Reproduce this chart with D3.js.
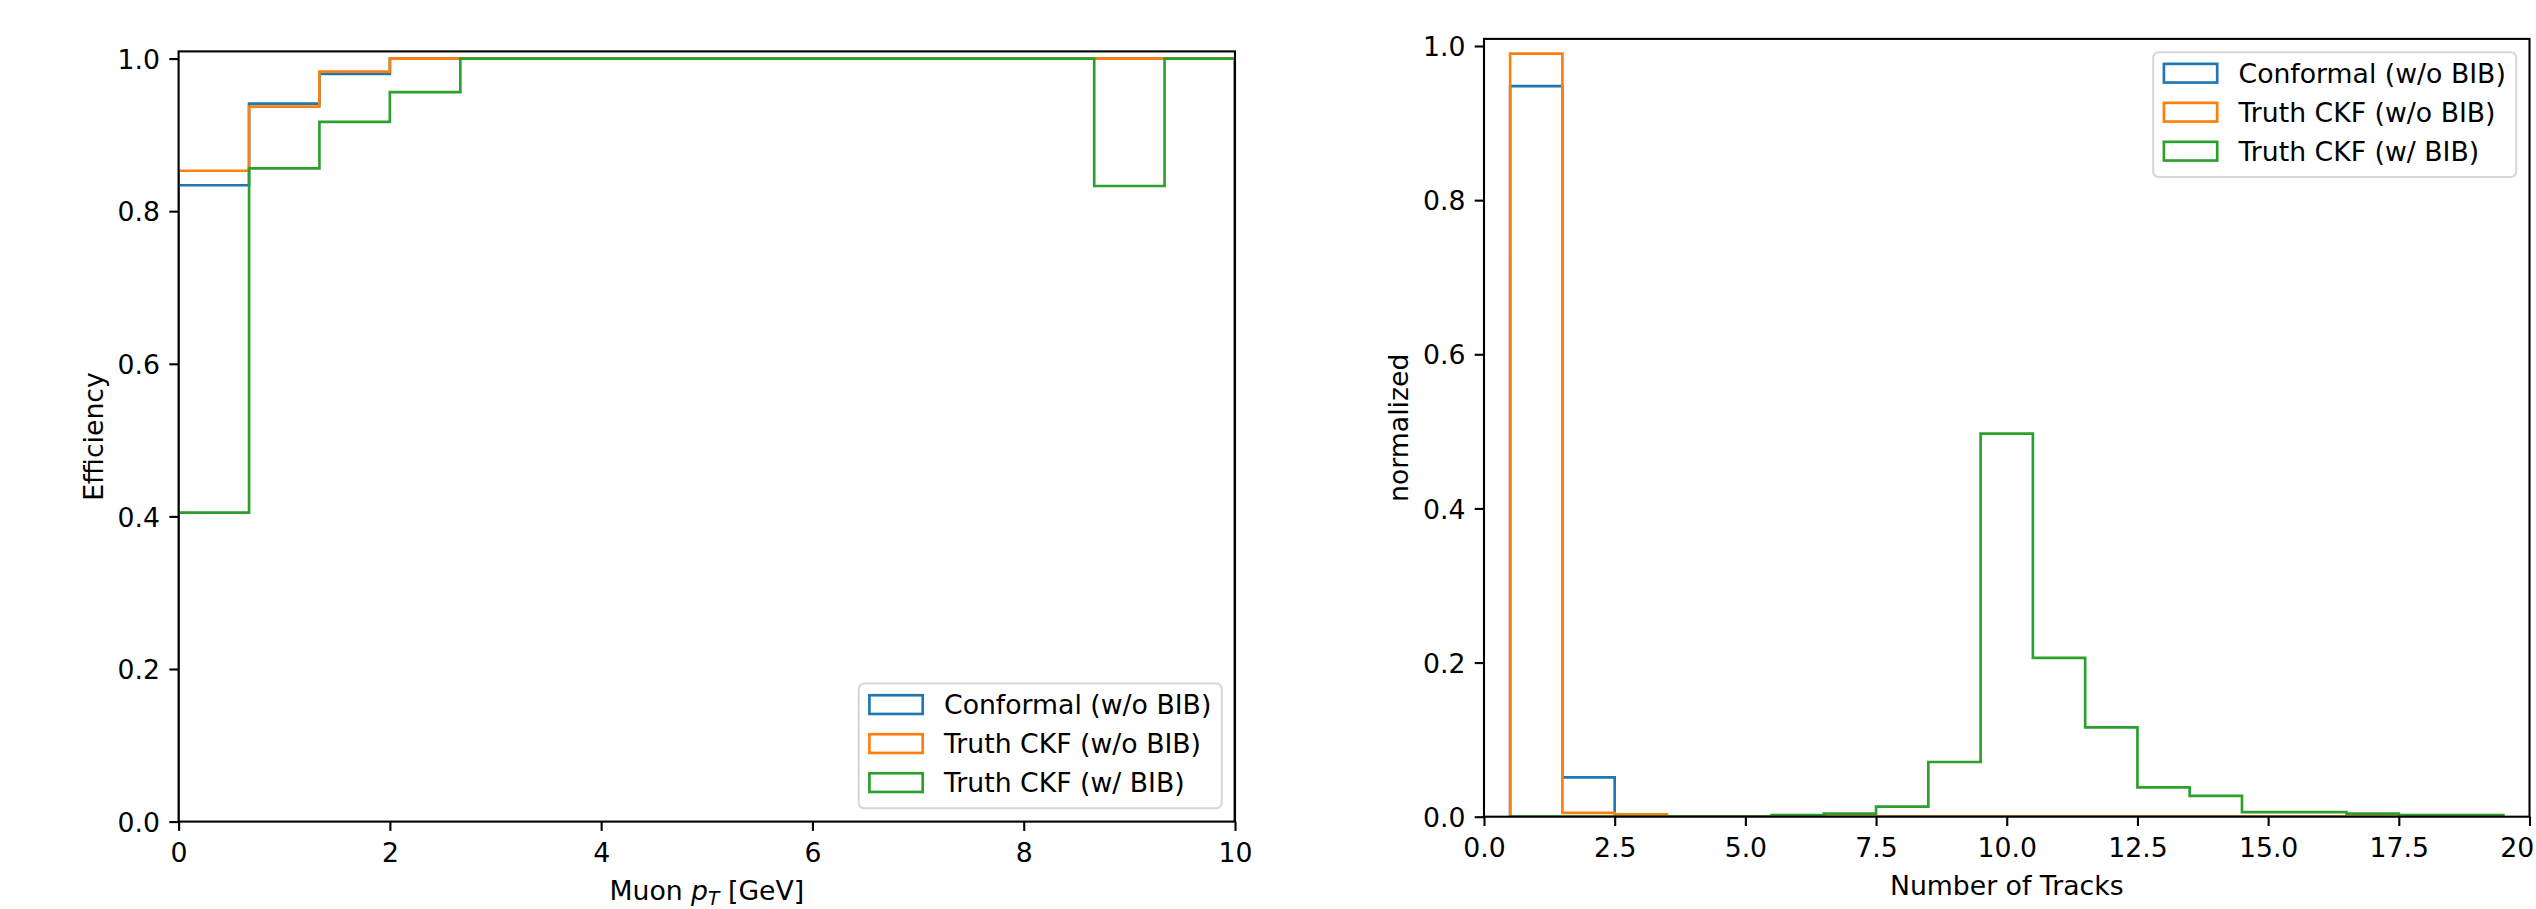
<!DOCTYPE html>
<html>
<head>
<meta charset="utf-8">
<script src="https://cdn.jsdelivr.net/npm/d3@7"></script>
<style>
  body { margin: 0; background: #fff; }
  svg { display: block; font-family: "DejaVu Sans", sans-serif; }
</style>
</head>
<body>
<div id="vis"></div>
<script>
// legend entries and matplotlib tab10 colours
const seriesNames = ["Conformal (w/o BIB)", "Truth CKF (w/o BIB)", "Truth CKF (w/ BIB)"];
const seriesColours = ["#1f77b4", "#ff7f0e", "#2ca02c"];

// left panel: efficiency vs muon pT (15 bins from 0 to 10 GeV)
const ptEdges = [0, 0.667, 1.333, 2, 2.667, 3.333, 4, 4.667, 5.333, 6, 6.667, 7.333, 8, 8.667, 9.333, 10];
const effConformal = [0.834, 0.941, 0.980, 1, 1, 1, 1, 1, 1, 1, 1, 1, 1, 1, 1];
const effCkf = [0.853, 0.937, 0.983, 1, 1, 1, 1, 1, 1, 1, 1, 1, 1, 1, 1];
const effCkfBib = [0.405, 0.856, 0.917, 0.956, 1, 1, 1, 1, 1, 1, 1, 1, 1, 0.833, 1];
const ptTicks = [0, 2, 4, 6, 8, 10];
const effTicks = [0, 0.2, 0.4, 0.6, 0.8, 1.0];

// right panel: normalised number of tracks per event (unit bins centred on integers)
const trackEdges = [0.5, 1.5, 2.5, 3.5, 4.5, 5.5, 6.5, 7.5, 8.5, 9.5, 10.5, 11.5, 12.5, 13.5, 14.5, 15.5, 16.5, 17.5, 18.5, 19.5];
const nConformal = [0.948, 0.051, 0, 0, 0, 0, 0, 0, 0, 0, 0, 0, 0, 0, 0, 0, 0, 0, 0];
const nCkf = [0.990, 0.005, 0.003, 0, 0, 0, 0, 0, 0, 0, 0, 0, 0, 0, 0, 0, 0, 0, 0];
const nCkfBib = [0, 0, 0, 0, 0, 0.002, 0.004, 0.013, 0.071, 0.497, 0.206, 0.116, 0.038, 0.027, 0.006, 0.006, 0.004, 0.002, 0.002];
const trackTicks = [0, 2.5, 5, 7.5, 10, 12.5, 15, 17.5, 20];
const normTicks = [0, 0.2, 0.4, 0.6, 0.8, 1.0];

const width = 2536;
const height = 909;
const fontSize = 26.7;
const tickLen = 9.3;

const svg = d3.select("#vis")
  .append("svg")
  .attr("width", width)
  .attr("height", height)
  .style("background", "#fff");

// draws one matplotlib-like panel with step histograms
function panel(cfg) {
  const x = d3.scaleLinear().domain(cfg.xDomain).range([cfg.left, cfg.right]);
  const y = d3.scaleLinear().domain(cfg.yDomain).range([cfg.bottom, cfg.top]);

  const clipId = "clip-" + cfg.id;
  svg.append("clipPath").attr("id", clipId)
    .append("rect")
    .attr("x", cfg.left).attr("y", cfg.top)
    .attr("width", cfg.right - cfg.left).attr("height", cfg.bottom - cfg.top);

  // step outline: up from zero at the first edge, across each bin, down at the last edge
  function stepPoints(edges, values) {
    const pts = [[edges[0], 0]];
    values.forEach((v, i) => {
      pts.push([edges[i], v]);
      pts.push([edges[i + 1], v]);
    });
    pts.push([edges[edges.length - 1], 0]);
    return pts;
  }

  const line = d3.line().x((d) => x(d[0])).y((d) => y(d[1]));

  svg.append("g")
    .attr("clip-path", `url(#${clipId})`)
    .selectAll("path")
    .data(cfg.series)
    .enter()
    .append("path")
    .attr("d", (d) => line(stepPoints(cfg.edges, d)))
    .attr("fill", "none")
    .attr("stroke", (d, i) => seriesColours[i])
    .attr("stroke-width", 2.67)
    .attr("stroke-linejoin", "miter");

  // axes
  const xAxis = svg.append("g")
    .attr("transform", `translate(0,${cfg.bottom})`)
    .call(d3.axisBottom(x).tickValues(cfg.xTicks).tickSize(tickLen).tickFormat(cfg.xFormat));
  const yAxis = svg.append("g")
    .attr("transform", `translate(${cfg.left},0)`)
    .call(d3.axisLeft(y).tickValues(cfg.yTicks).tickSize(tickLen).tickFormat(d3.format(".1f")));

  [xAxis, yAxis].forEach((g) => {
    g.attr("font-family", null).attr("font-size", null);
    g.select(".domain").remove();
    g.selectAll(".tick line").attr("stroke", "#000").attr("stroke-width", 2.1);
    g.selectAll(".tick text")
      .attr("fill", "#000")
      .style("font-size", fontSize + "px");
  });
  xAxis.selectAll(".tick text").attr("y", 40).attr("dy", null);
  yAxis.selectAll(".tick text").attr("x", -18.6).attr("dy", "0.36em");

  // spines on top of the data
  svg.append("rect")
    .attr("x", cfg.left).attr("y", cfg.top)
    .attr("width", cfg.right - cfg.left).attr("height", cfg.bottom - cfg.top)
    .attr("fill", "none")
    .attr("stroke", "#000")
    .attr("stroke-width", 2.1);

  // x label
  const xl = svg.append("text")
    .attr("x", (cfg.left + cfg.right) / 2)
    .attr("y", cfg.bottom + 78)
    .attr("text-anchor", "middle")
    .style("font-size", fontSize + "px")
    .attr("fill", "#000");
  cfg.xLabel(xl);

  // y label
  const ylx = cfg.left - 76;
  const yly = (cfg.top + cfg.bottom) / 2;
  svg.append("text")
    .attr("x", ylx)
    .attr("y", yly)
    .attr("transform", `rotate(-90,${ylx},${yly})`)
    .attr("text-anchor", "middle")
    .style("font-size", fontSize + "px")
    .attr("fill", "#000")
    .text(cfg.yLabel);

  // legend
  const boxW = 363;
  const boxH = 124.7;
  const pad = 13.3;
  const bx = cfg.right - pad - boxW;
  const by = cfg.legendLoc === "upper" ? cfg.top + pad : cfg.bottom - pad - boxH;
  const leg = svg.append("g").attr("transform", `translate(${bx},${by})`);
  leg.append("rect")
    .attr("width", boxW).attr("height", boxH)
    .attr("rx", 5.3)
    .attr("fill", "#fff").attr("fill-opacity", 0.8)
    .attr("stroke", "#d6d6d6").attr("stroke-width", 2);
  const rows = leg.selectAll(".row")
    .data(seriesNames)
    .enter()
    .append("g")
    .attr("transform", (d, i) => `translate(0,${21 + i * 39})`);
  rows.append("rect")
    .attr("x", 10.7).attr("y", -9.35)
    .attr("width", 53.3).attr("height", 18.7)
    .attr("fill", "none")
    .attr("stroke", (d, i) => seriesColours[i])
    .attr("stroke-width", 2.67);
  rows.append("text")
    .attr("x", 85.3).attr("y", 9.3)
    .style("font-size", fontSize + "px")
    .attr("fill", "#000")
    .text((d) => d);
}

panel({
  id: "eff",
  left: 178.6, right: 1235, top: 51.4, bottom: 821.6,
  xDomain: [0, 10], yDomain: [0, 1.0094],
  edges: ptEdges,
  series: [effConformal, effCkf, effCkfBib],
  xTicks: ptTicks, yTicks: effTicks,
  xFormat: d3.format("d"),
  xLabel: (t) => {
    t.append("tspan").text("Muon ");
    t.append("tspan").style("font-style", "italic").text("p");
    t.append("tspan").style("font-style", "italic").style("font-size", (fontSize * 0.7) + "px").attr("dy", 5).text("T");
    t.append("tspan").attr("dy", -5).text(" [GeV]");
  },
  yLabel: "Efficiency",
  legendLoc: "lower"
});

panel({
  id: "tracks",
  left: 1484, right: 2529.5, top: 38.9, bottom: 816.7,
  xDomain: [0, 20], yDomain: [0, 1.0092],
  edges: trackEdges,
  series: [nConformal, nCkf, nCkfBib],
  xTicks: trackTicks, yTicks: normTicks,
  xFormat: d3.format(".1f"),
  xLabel: (t) => t.text("Number of Tracks"),
  yLabel: "normalized",
  legendLoc: "upper"
});
</script>
</body>
</html>
